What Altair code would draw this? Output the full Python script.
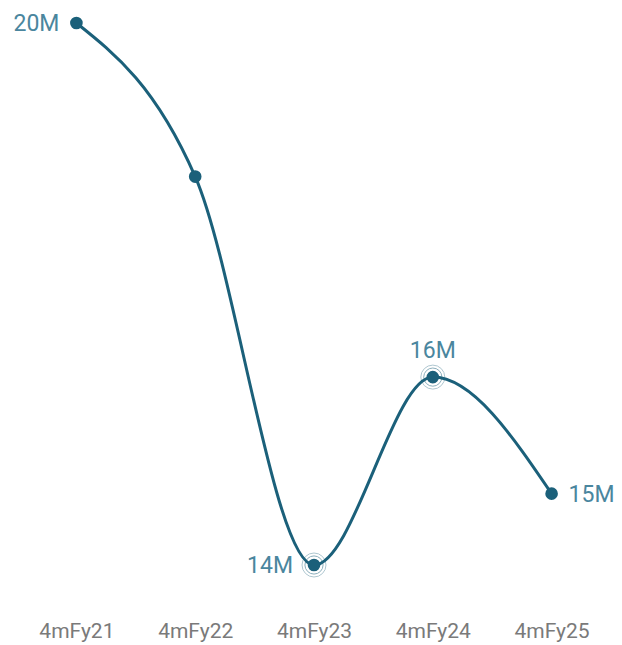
import altair as alt
import pandas as pd

periods = ["4mFy21", "4mFy22", "4mFy23", "4mFy24", "4mFy25"]
values = [20.0, 18.3, 14.0, 16.08, 14.79]
labels = ["20M", "", "14M", "16M", "15M"]
highlighted = ["4mFy23", "4mFy24"]

df = pd.DataFrame({"period": periods, "value": values, "label": labels})
df["hl"] = df["period"].isin(highlighted)

LINE = "#1b607a"
LABEL = "#4a869e"
FONT = "Roboto"

x = alt.X("period:N", sort=periods, title=None,
          scale=alt.Scale(type="point", padding=0.5),
          axis=alt.Axis(domain=False, ticks=False, grid=False, labelAngle=0,
                        labelPadding=55, labelFontSize=21, labelFont=FONT,
                        labelColor="#7a7a7a"))
y = alt.Y("value:Q", title=None, axis=None,
          scale=alt.Scale(domain=[14, 20], nice=False, zero=False))

base = alt.Chart(df).encode(x=x, y=y)

line = base.mark_line(interpolate="monotone", color=LINE, strokeWidth=3)
pts = base.mark_point(filled=True, shape="circle", size=160, color=LINE, opacity=1)
ring1 = base.mark_point(shape="circle", size=576, color=LINE, strokeWidth=1,
                        opacity=0.35, filled=False).transform_filter("datum.hl")
ring2 = base.mark_point(shape="circle", size=330, color=LINE, strokeWidth=1,
                        opacity=0.5, filled=False).transform_filter("datum.hl")

def lab(period, **kw):
    return base.mark_text(font=FONT, fontSize=23, color=LABEL, **kw).encode(
        text="label:N").transform_filter(alt.datum.period == period)

t1 = lab("4mFy21", align="right", baseline="middle", dx=-17, dy=1)
t3 = lab("4mFy23", align="right", baseline="middle", dx=-21, dy=1)
t4 = lab("4mFy24", align="center", baseline="alphabetic", dx=0, dy=-19)
t5 = lab("4mFy25", align="left", baseline="middle", dx=17, dy=1)

chart = alt.layer(line, ring1, ring2, pts, t1, t3, t4, t5).properties(
    width=594, height=542,
    background="white",
    autosize=alt.AutoSizeParams(type="none"),
    padding={"left": 17, "top": 23, "right": 11, "bottom": 80},
).configure_view(strokeWidth=0, stroke="transparent")

chart.save("out.html", embed_options={"renderer": "svg", "actions": False})
